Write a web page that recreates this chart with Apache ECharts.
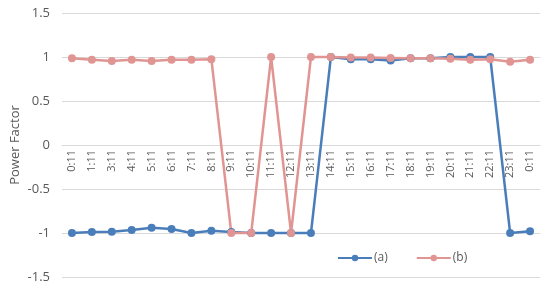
<!DOCTYPE html>
<html><head><meta charset="utf-8">
<script src="https://cdn.jsdelivr.net/npm/echarts@6/dist/echarts.min.js"></script>
<style>html,body{margin:0;padding:0;background:#fff}#c{width:550px;height:288px}</style>
</head><body><div id="c"></div>
<script>
const categories = ['0:11','1:11','3:11','4:11','5:11','6:11','7:11','8:11','9:11','10:11','11:11','12:11','13:11','14:11','15:11','16:11','17:11','18:11','19:11','20:11','21:11','22:11','23:11','0:11'];
const seriesA = [-1.0,-0.99,-0.985,-0.965,-0.94,-0.955,-1.0,-0.975,-0.99,-1.0,-1.0,-1.0,-1.0,1.0,0.975,0.975,0.96,0.985,0.985,1.0,1.0,1.0,-1.0,-0.98];
const seriesB = [0.985,0.97,0.955,0.97,0.955,0.97,0.97,0.975,-1.0,-1.0,1.0,-1.0,1.0,1.0,0.995,0.995,0.99,0.985,0.985,0.98,0.97,0.975,0.945,0.97];
const yTicks = {min:-1.5, max:1.5, interval:0.5};
const chart = echarts.init(document.getElementById('c'));
const font = 'Open Sans, Liberation Sans, sans-serif';
const gridTop = 13, gridBottom = 11, H = 288;
const plotH = H - gridTop - gridBottom;
chart.setOption({
  animation:false,
  textStyle:{fontFamily:font},
  grid:{left:62, right:10, top:gridTop, bottom:gridBottom, containLabel:false, outerBoundsMode:'none'},
  legend:{
    data:['(a)','(b)'], left:332, top:247, itemGap:28, itemWidth:34, itemHeight:8,
    textStyle:{color:'#595959', fontSize:12, fontFamily:font, padding:[0,0,0,-3]}
  },
  xAxis:{
    type:'category', data:categories, boundaryGap:true, position:'bottom',
    offset:-plotH/2,
    axisLine:{onZero:false, lineStyle:{color:'#d9d9d9'}},
    axisTick:{show:false},
    axisLabel:{rotate:90, color:'#595959', fontSize:11, interval:0, margin:5, fontFamily:font}
  },
  yAxis:{
    type:'value', min:yTicks.min, max:yTicks.max, interval:yTicks.interval,
    name:'Power Factor', nameLocation:'middle', nameGap:40, nameMoveOverlap:false,
    nameTextStyle:{color:'#595959', fontSize:13, fontFamily:font},
    axisLine:{show:false}, axisTick:{show:false},
    axisLabel:{color:'#595959', fontSize:13, margin:12, fontFamily:font},
    splitLine:{lineStyle:{color:'#d9d9d9'}}
  },
  series:[
    {name:'(a)', type:'line', data:seriesA, symbol:'circle', symbolSize:8,
     itemStyle:{color:'#4a7ebb'}, lineStyle:{color:'#4a7ebb', width:2.5}},
    {name:'(b)', type:'line', data:seriesB, symbol:'circle', symbolSize:8,
     itemStyle:{color:'#e09593'}, lineStyle:{color:'#e09593', width:2.5}}
  ]
});
</script></body></html>
